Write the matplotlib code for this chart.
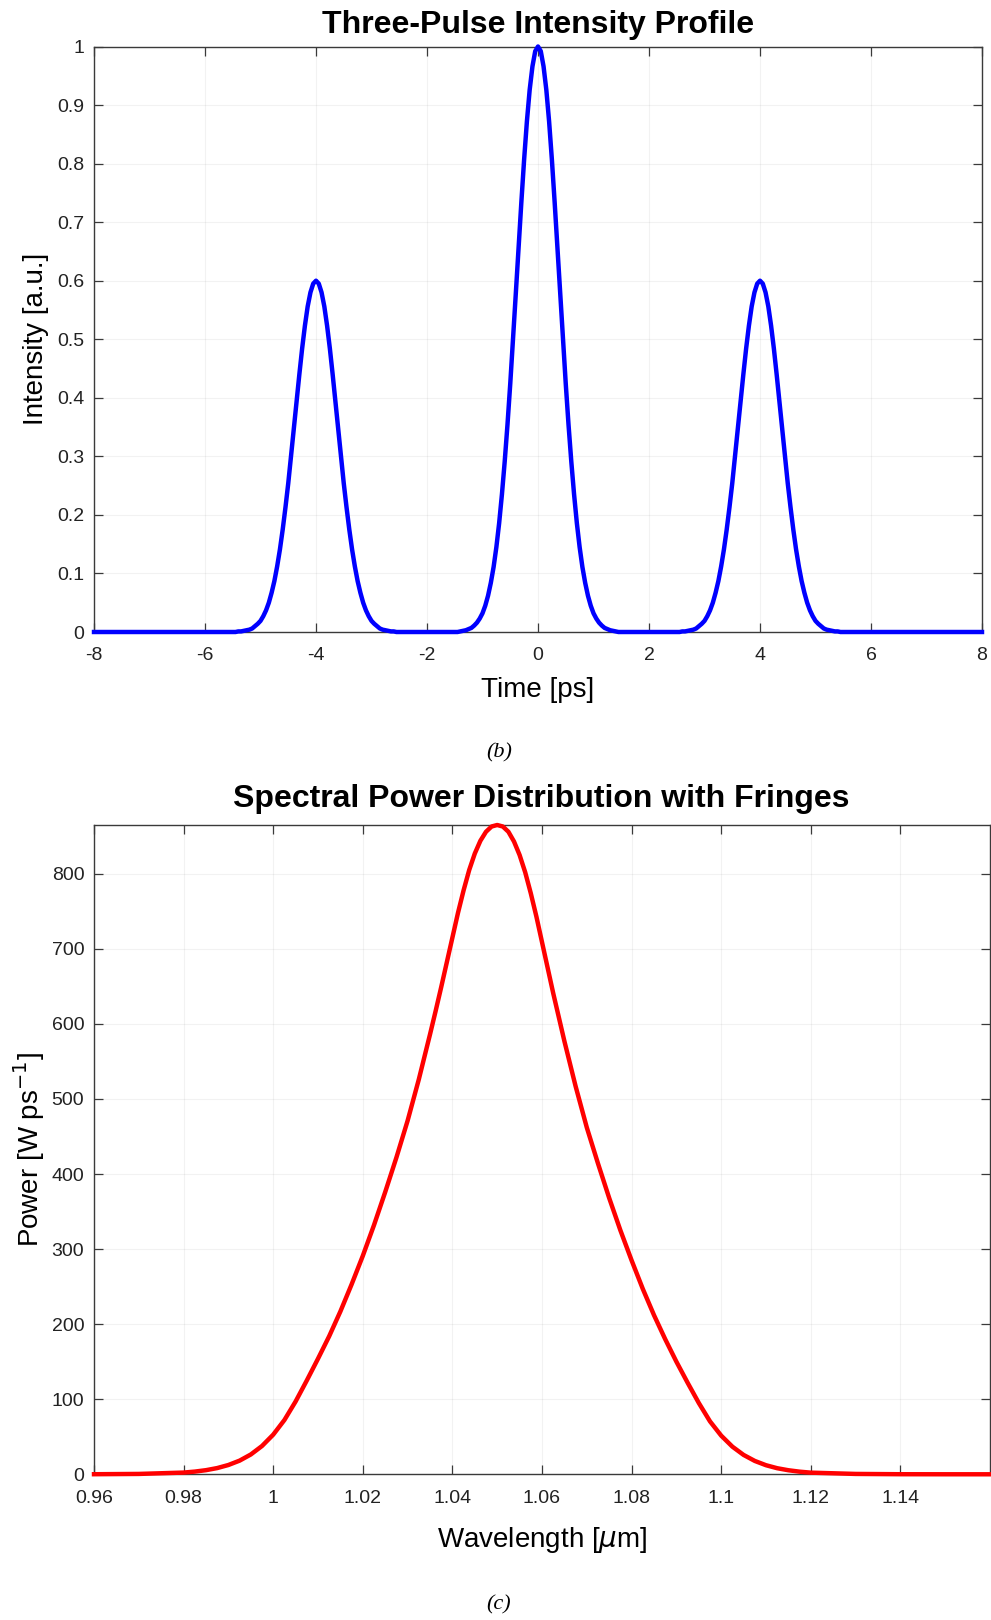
import numpy as np
import matplotlib
matplotlib.use('Agg')
import matplotlib.pyplot as plt

plt.rcParams['font.family'] = ['Liberation Sans', 'DejaVu Sans']
plt.rcParams['mathtext.fontset'] = 'dejavusans'
plt.rcParams['axes.unicode_minus'] = False

# --- panel (b): three-pulse intensity profile, sampled every 0.05 ps ---
time_ps = np.linspace(-8, 8, 321)
# one half of each pulse, from the peak outwards (0 .. 1.4 ps)
side_half = [0.600, 0.595, 0.580, 0.556, 0.523, 0.484, 0.440, 0.394, 0.347, 0.300,
             0.254, 0.213, 0.175, 0.141, 0.112, 0.087, 0.067, 0.050, 0.037, 0.027,
             0.019, 0.014, 0.010, 0.006, 0.004, 0.003, 0.002, 0.001, 0.001]
centre_half = [1.000, 0.992, 0.966, 0.926, 0.872, 0.807, 0.734, 0.657, 0.578, 0.500,
               0.424, 0.354, 0.291, 0.235, 0.186, 0.145, 0.111, 0.084, 0.062, 0.045,
               0.032, 0.023, 0.016, 0.011, 0.007, 0.005, 0.003, 0.002, 0.001]
side_pulse = side_half[::-1] + side_half[1:]
centre_pulse = centre_half[::-1] + centre_half[1:]
intensity = ([0.0] * 52 + side_pulse + [0.0] * 23 + centre_pulse
             + [0.0] * 23 + side_pulse + [0.0] * 52)
time_ticks = [-8, -6, -4, -2, 0, 2, 4, 6, 8]
intensity_ticks = [0, 0.1, 0.2, 0.3, 0.4, 0.5, 0.6, 0.7, 0.8, 0.9, 1]
intensity_labels = ['0', '0.1', '0.2', '0.3', '0.4', '0.5', '0.6', '0.7', '0.8', '0.9', '1']

# --- panel (c): spectral power (finer sampling around the peak) ---
wl_left = [round(0.98 + 0.0025 * k, 5) for k in range(23)]
wl_mid = [round(1.03625 + 0.00125 * k, 5) for k in range(23)]
wl_right = [round(1.065 + 0.0025 * k, 5) for k in range(23)]
wavelength_um = [0.96, 0.97] + wl_left + wl_mid + wl_right + [1.13, 1.14, 1.15, 1.16]

power_left = [2.3, 3.6, 5.5, 8.3, 12.4, 18.2, 26.4, 37.7, 52.8, 72.3, 97, 125, 154,
              184, 217, 253, 291, 332, 376, 422, 471, 526, 586]
power_mid = [617, 649, 682, 715, 748, 778, 805, 827, 844, 856, 863,
             865,
             863, 856, 843, 825, 802, 774, 743, 709, 675, 641, 609]
power_right = [577, 517, 462, 414, 368, 325, 285, 247, 212, 180, 150, 122, 95,
               70.5, 51.5, 36.8, 25.8, 17.8, 12.1, 8.1, 5.4, 3.5, 2.2]
power = [0.1, 0.5] + power_left + power_mid + power_right + [0.5, 0.1, 0.03, 0.01]
wl_ticks = [0.96, 0.98, 1.0, 1.02, 1.04, 1.06, 1.08, 1.1, 1.12, 1.14]
wl_labels = ['0.96', '0.98', '1', '1.02', '1.04', '1.06', '1.08', '1.1', '1.12', '1.14']
power_ticks = [0, 100, 200, 300, 400, 500, 600, 700, 800]

W, H = 991, 1620
fig = plt.figure(figsize=(W / 100, H / 100), dpi=100)


def frac(x0, y0, x1, y1):
    # pixel box -> figure fraction
    return [x0 / W, 1 - y1 / H, (x1 - x0) / W, (y1 - y0) / H]


def style_axes(ax):
    for s in ax.spines.values():
        s.set_color('#3a3a3a')
        s.set_linewidth(1.0)
    ax.tick_params(direction='in', length=6.5, width=0.9, color='#3a3a3a',
                   top=True, right=True, labelsize=14, labelcolor='#222222')
    ax.tick_params(axis='x', pad=11)
    ax.tick_params(axis='y', pad=7)
    ax.grid(True, color='0.15', alpha=0.06, linewidth=0.8)
    ax.set_axisbelow(True)


ax1 = fig.add_axes(frac(94, 46.5, 982, 632))
ax1.plot(time_ps, intensity, color='#0000ff', linewidth=3.2, clip_on=False, zorder=3,
         solid_joinstyle='round')
ax1.set_xlim(-8, 8)
ax1.set_ylim(0, 1)
ax1.set_xticks(time_ticks)
ax1.set_yticks(intensity_ticks)
ax1.set_yticklabels(intensity_labels)
style_axes(ax1)
ax1.set_xlabel('Time [ps]', fontsize=20, va='center')
ax1.xaxis.set_label_coords(0.5, (632 - 690) / 585.5)
ax1.set_ylabel('Intensity [a.u.]', fontsize=20, va='center')
ax1.yaxis.set_label_coords((36 - 94) / 888, 0.5)
fig.text(538 / W, 1 - 25 / H, 'Three-Pulse Intensity Profile', fontsize=23,
         fontweight='bold', ha='center', va='center')
fig.text(499 / W, 1 - 753 / H, '(b)', fontsize=16, style='italic',
         family='Liberation Serif', ha='center', va='center')

ax2 = fig.add_axes(frac(94, 825, 990, 1474.3))
ax2.plot(wavelength_um, power, color='#ff0000', linewidth=3.2, clip_on=False, zorder=3,
         solid_joinstyle='round')
ax2.set_xlim(0.96, 1.16)
ax2.set_ylim(0, 865)
ax2.set_xticks(wl_ticks)
ax2.set_xticklabels(wl_labels)
ax2.set_yticks(power_ticks)
style_axes(ax2)
ax2.set_xlabel(r'Wavelength [$\mu$m]', fontsize=20, va='center')
ax2.xaxis.set_label_coords(0.5, (1474.3 - 1540) / 649.3)
ax2.set_ylabel(r'Power [W ps$^{-1}$]', fontsize=20, va='center')
ax2.yaxis.set_label_coords((29 - 94) / 896, 0.5)
fig.text(541 / W, 1 - 799 / H, 'Spectral Power Distribution with Fringes', fontsize=23,
         fontweight='bold', ha='center', va='center')
fig.text(499 / W, 1 - 1605 / H, '(c)', fontsize=16, style='italic',
         family='Liberation Serif', ha='center', va='center')

fig.savefig('out.png', dpi=100, facecolor='white')
